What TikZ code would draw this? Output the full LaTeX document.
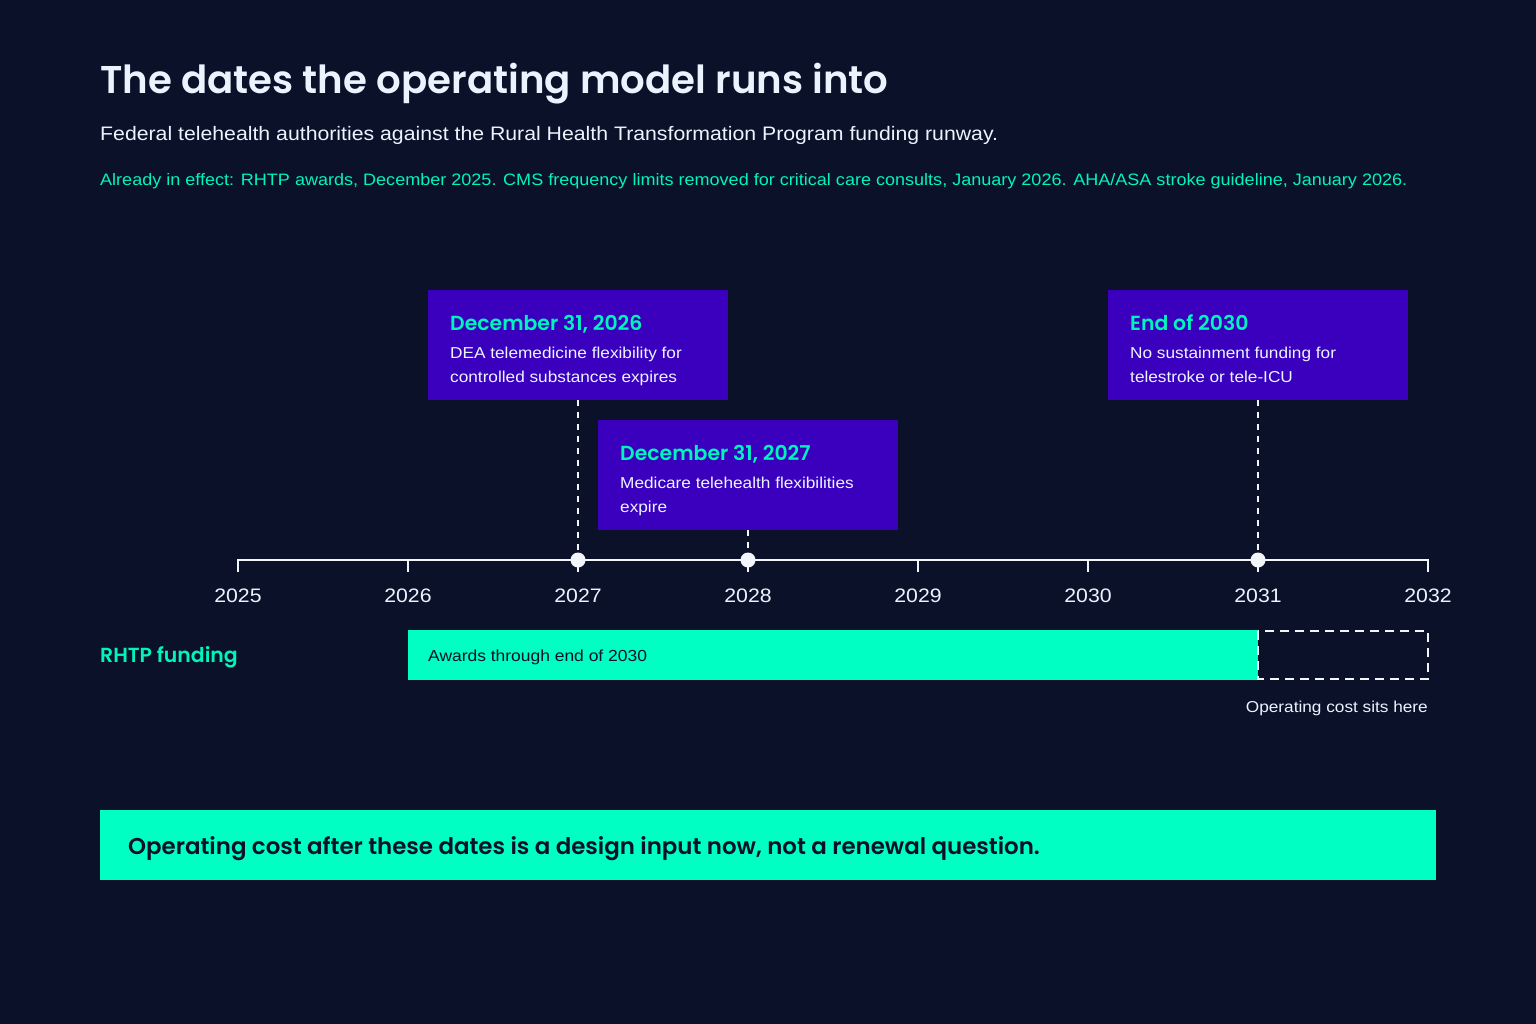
\documentclass[tikz,border=0pt]{standalone}
\usepackage{fontspec}
\setmainfont{Liberation Sans}[FakeStretch=1.09]
\newfontfamily\headfont{Poppins}[BoldFont={Poppins SemiBold}]
\definecolor{bg}{HTML}{0B1129}
\definecolor{purp}{HTML}{3A00BE}
\definecolor{mint}{HTML}{00FFC2}
\definecolor{minttext}{HTML}{00F5BC}
\definecolor{pale}{HTML}{EAF4FF}
\definecolor{tick}{HTML}{F2F6FA}
\begin{document}
\begin{tikzpicture}[x=1pt,y=-1pt,
  txt/.style={inner sep=0pt,anchor=base west},
  evhead/.style={txt,text=minttext,font=\headfont\bfseries\fontsize{20.4}{24}\selectfont},
  evbody/.style={txt,text=pale,font=\fontsize{15.8}{24}\selectfont},
  yearlab/.style={inner sep=0pt,anchor=base,text=pale,font=\fontsize{19.5}{22}\selectfont},
  axisline/.style={draw=tick,line width=2pt},
  leader/.style={draw=tick,line width=2pt,dash pattern=on 6pt off 6pt},
  evdot/.style={circle,fill=tick,inner sep=0pt,minimum size=15pt},
]
\useasboundingbox (0,0) rectangle (1536,1024);
\fill[bg] (0,0) rectangle (1536,1024);

% header
\node[txt,text=pale,font=\headfont\bfseries\fontsize{38.7}{44}\selectfont] (title) at (100,94) {The dates the operating model runs into};
\node[txt,text=pale,font=\fontsize{19.5}{22}\selectfont] (sub) at (100,141) {Federal telehealth authorities against the Rural Health Transformation Program funding runway.};
\node[txt,text=minttext,font=\fontsize{16.55}{20}\selectfont] (note) at (100,186) {Already in effect: RHTP awards, December 2025. CMS frequency limits removed for critical care consults, January 2026. AHA/ASA stroke guideline, January 2026.};

% event boxes
\fill[purp] (428,290) rectangle (728,400);
\coordinate (b1) at (578,400);
\node[evhead] (h1) at (450,330) {December 31, 2026};
\node[evbody] (t1a) at (450,358) {DEA telemedicine flexibility for};
\node[evbody] (t1b) at (450,382) {controlled substances expires};

\fill[purp] (598,420) rectangle (898,530);
\coordinate (b2) at (748,530);
\node[evhead] (h2) at (620,460) {December 31, 2027};
\node[evbody] (t2a) at (620,488) {Medicare telehealth flexibilities};
\node[evbody] (t2b) at (620,512) {expire};

\fill[purp] (1108,290) rectangle (1408,400);
\coordinate (b3) at (1258,400);
\node[evhead] (h3) at (1130,330) {End of 2030};
\node[evbody] (t3a) at (1130,358) {No sustainment funding for};
\node[evbody] (t3b) at (1130,382) {telestroke or tele-ICU};

% axis
\draw[axisline] (238,560) -- (1428,560);
\foreach \i/\yr in {0/2025,1/2026,2/2027,3/2028,4/2029,5/2030,6/2031,7/2032}{
  \draw[axisline] (238+170*\i,559) -- (238+170*\i,572);
  \node[yearlab] (y\yr) at (238+170*\i,602) {\yr};
}
\coordinate (d1) at (578,560);
\coordinate (d2) at (748,560);
\coordinate (d3) at (1258,560);
\draw[leader] (b1) -- (d1);
\draw[leader] (b2) -- (d2);
\draw[leader] (b3) -- (d3);
\node[evdot] at (d1) {};
\node[evdot] at (d2) {};
\node[evdot] at (d3) {};

% funding row
\node[txt,text=minttext,font=\headfont\bfseries\fontsize{20.4}{24}\selectfont] (rhtp) at (100,662) {RHTP funding};
\fill[mint] (408,630) rectangle (1258,680);
\node[txt,text=bg,font=\fontsize{16}{20}\selectfont] (aw) at (428,661) {Awards through end of 2030};
\draw[draw=tick,line width=2pt,dash pattern=on 9pt off 6pt] (1258,631) rectangle (1428,679);
\node[inner sep=0pt,anchor=base east,text=pale,font=\fontsize{15.8}{20}\selectfont] (op) at (1428,712) {Operating cost sits here};

% banner
\fill[mint] (100,810) rectangle (1436,880);
\node[txt,text=bg,font=\headfont\bfseries\fontsize{22.9}{26}\selectfont] (ban) at (128,854) {Operating cost after these dates is a design input now, not a renewal question.};
\end{tikzpicture}
\end{document}
